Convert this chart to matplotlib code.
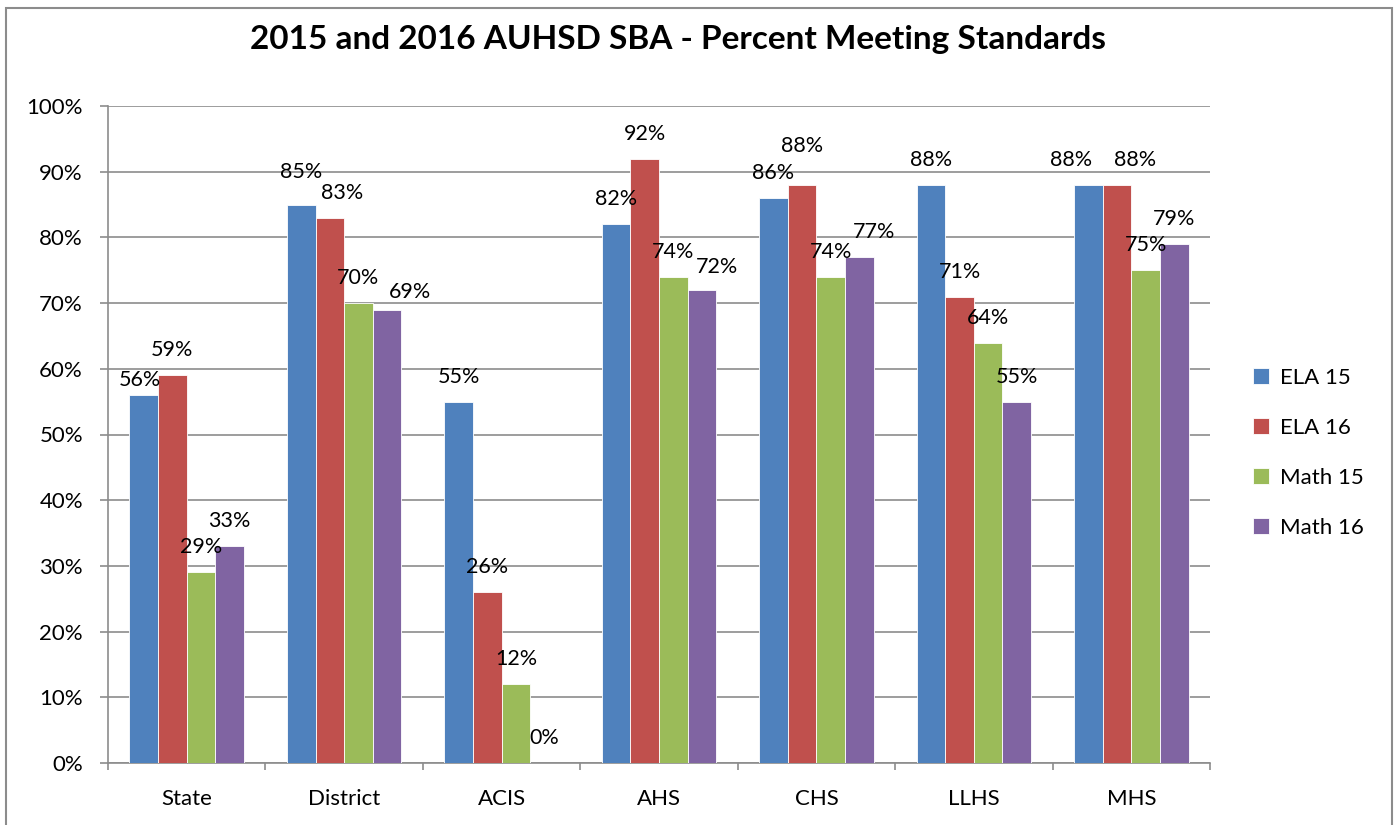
import numpy as np
import matplotlib.pyplot as plt
from matplotlib.patches import Rectangle

plt.rcParams['font.family'] = ['Lato', 'DejaVu Sans']

# Data
schools = ['State', 'District', 'ACIS', 'AHS', 'CHS', 'LLHS', 'MHS']
series = ['ELA 15', 'ELA 16', 'Math 15', 'Math 16']
ela15 = [56, 85, 55, 82, 86, 88, 88]
ela16 = [59, 83, 26, 92, 88, 71, 88]
math15 = [29, 70, 12, 74, 74, 64, 75]
math16 = [33, 69, 0, 72, 77, 55, 79]
colors = ['#4F81BD', '#C0504D', '#9BBB59', '#8064A2']

# label nudges (pixels) where the original moved labels to avoid overlaps
nudge = {
    ('State', 'ELA 15'): (-4, 10),
    ('District', 'ELA 15'): (0, -8),
    ('District', 'ELA 16'): (12, 0),
    ('District', 'Math 16'): (23, 7),
    ('AHS', 'Math 16'): (15, 2),
    ('CHS', 'ELA 16'): (0, -14),
    ('CHS', 'Math 16'): (15, 0),
    ('MHS', 'ELA 15'): (-17, 0),
    ('MHS', 'ELA 16'): (18, 0),
}

W, H = 1397, 825
fig = plt.figure(figsize=(W / 100, H / 100), dpi=100)
ax = fig.add_axes([108 / W, (H - 763) / H, (1210 - 108) / W, (763 - 106) / H])

# outer chart border
fig.patches.append(Rectangle((6 / W, -0.05), (1392 - 6) / W, (H - 8) / H + 0.05,
                             transform=fig.transFigure, fill=False,
                             edgecolor='#8c8c8c', linewidth=1.5))

fs = 16
x = np.arange(len(schools))
bw = 1 / 5.5  # Excel gap width 150%
values = [ela15, ela16, math15, math16]
for i, (name, vals) in enumerate(zip(series, values)):
    pos = x + (i - 1.5) * bw
    ax.bar(pos, vals, width=bw, color=colors[i], edgecolor='white',
           linewidth=0.6, label=name, zorder=3)
    for school, px, v in zip(schools, pos, vals):
        dx, dy = nudge.get((school, name), (0, 0))
        ax.annotate(f'{v}%', (px, v), xytext=(dx * 0.72, (25 - dy) * 0.72),
                    textcoords='offset points', ha='center', va='center',
                    fontsize=15.5, color='black', zorder=4)

ax.set_xlim(-0.5, len(schools) - 0.5)
ax.set_ylim(0, 100)
ax.set_yticks(np.arange(0, 101, 10))
ax.set_yticklabels([f'{t}%' for t in range(0, 101, 10)], fontsize=fs)
ax.yaxis.grid(True, color='#8c8c8c', linewidth=1.2, zorder=0)
ax.set_axisbelow(True)

ax.set_xticks(x)
ax.set_xticklabels(schools, fontsize=fs)
ax.set_xticks(np.arange(-0.5, len(schools)), minor=True)
ax.tick_params(axis='x', which='major', length=0, pad=19)
ax.tick_params(axis='x', which='minor', length=5, color='#8c8c8c', width=1.2)
ax.tick_params(axis='y', length=6, color='#8c8c8c', width=1.2, pad=12)

for s in ['top', 'right']:
    ax.spines[s].set_visible(False)
for s in ['left', 'bottom']:
    ax.spines[s].set_color('#8c8c8c')
    ax.spines[s].set_linewidth(1.2)

fig.text(678 / W, (H - 40) / H, '2015 and 2016 AUHSD SBA - Percent Meeting Standards',
         ha='center', va='center', fontsize=24, fontweight='bold')

leg = ax.legend(loc='center left', bbox_to_anchor=(1233 / W, (H - 453) / H),
                bbox_transform=fig.transFigure, frameon=False, fontsize=fs,
                handlelength=0.7, handleheight=0.7, labelspacing=1.35,
                handletextpad=0.5)

fig.savefig('out.png', dpi=100)
